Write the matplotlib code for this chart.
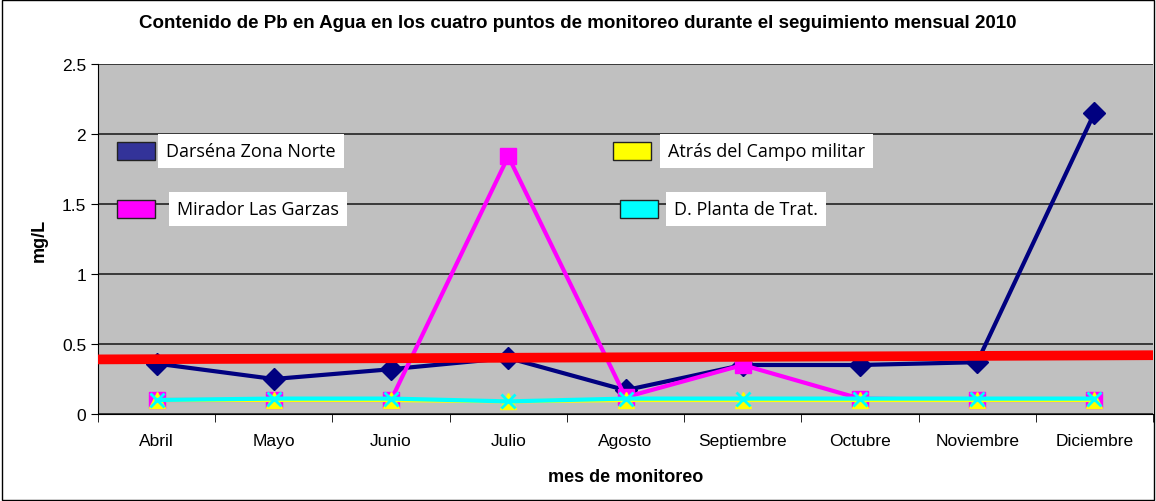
import matplotlib
matplotlib.use("Agg")
from matplotlib import pyplot as plt
from matplotlib.patches import Rectangle
import numpy as np

meses = ["Abril", "Mayo", "Junio", "Julio", "Agosto", "Septiembre",
         "Octubre", "Noviembre", "Diciembre"]
darsena = [0.36, 0.25, 0.32, 0.40, 0.17, 0.35, 0.35, 0.37, 2.15]
mirador = [0.10, 0.10, 0.10, 1.84, 0.12, 0.35, 0.11, 0.10, 0.10]
atras = [0.10, 0.10, 0.10, 0.09, 0.10, 0.10, 0.10, 0.10, 0.10]
planta = [0.10, 0.11, 0.11, 0.09, 0.11, 0.11, 0.11, 0.11, 0.11]
limite = [0.39, 0.42]  # red reference line, left and right ends

plt.rcParams["font.family"] = ["Liberation Sans", "DejaVu Sans"]

fig = plt.figure(figsize=(11.56, 5.02), dpi=100)
ax = fig.add_axes([98 / 1156, 1 - 415 / 502, (1153 - 98) / 1156, 350 / 502])
ax.set_facecolor("#c0c0c0")

x = np.arange(len(meses))
ax.plot(x, darsena, color="#000080", lw=3, marker="D", ms=11, zorder=4)
ax.plot(x, mirador, color="#ff00ff", lw=3, marker="s", ms=12, zorder=5)
ax.plot(x, atras, color="#ffff00", lw=3, marker="^", ms=12, zorder=6)
ax.plot(x, planta, color="#00ffff", lw=3, marker="x", ms=10, mew=2, zorder=7)
ax.plot([-0.5, 8.5], limite, color="#ff0000", lw=7, zorder=8, clip_on=False,
        solid_capstyle="butt")

ax.set_xlim(-0.5, 8.5)
ax.set_ylim(0, 2.5)
ax.set_yticks([0, 0.5, 1, 1.5, 2, 2.5])
ax.set_yticklabels(["0", "0.5", "1", "1.5", "2", "2.5"])
ax.yaxis.grid(True, color="#222222", lw=1.2)
ax.set_axisbelow(True)
ax.set_xticks(x)
ax.set_xticklabels(meses)
ax.set_xticks(np.arange(-0.5, 9, 1), minor=True)
ax.tick_params(axis="x", which="major", length=0, pad=14, labelsize=12.5)
ax.tick_params(axis="x", which="minor", length=6, direction="out")
ax.tick_params(axis="y", length=5, direction="out", labelsize=12.5)
for s in ["top", "right"]:
    ax.spines[s].set_visible(False)
for s in ["left", "bottom"]:
    ax.spines[s].set_color("black")

ax.set_ylabel("mg/L", fontweight="bold", fontsize=13, labelpad=10)
ax.set_xlabel("mes de monitoreo", fontweight="bold", fontsize=13, labelpad=14)
fig.text(0.5, 1 - 24 / 502, "Contenido de Pb en Agua en los cuatro puntos de monitoreo durante el seguimiento mensual 2010",
         ha="center", va="center", fontweight="bold", fontsize=13.5)

# custom legend inside the plot area
entradas = [
    ("Darséna Zona Norte", "#333399", 117, 152, 166),
    ("Mirador Las Garzas", "#ff00ff", 117, 210, 177),
    ("Atrás del Campo militar", "#ffff00", 613, 152, 668),
    ("D. Planta de Trat.", "#00ffff", 620, 210, 674),
]
for texto, color, px, py, tx in entradas:
    fig.patches.append(Rectangle((px / 1156, 1 - (py + 9) / 502), 38 / 1156, 18 / 502,
                                 transform=fig.transFigure, facecolor=color,
                                 edgecolor="#222222", lw=1, zorder=10))
    fig.text(tx / 1156, 1 - py / 502, texto, ha="left", va="center",
             fontsize=13, family=["Open Sans", "DejaVu Sans"], zorder=11,
             bbox=dict(facecolor="white", edgecolor="none", pad=6))

fig.patches.append(Rectangle((0.002, 0.002), 0.996, 0.996, transform=fig.transFigure,
                             fill=False, edgecolor="black", lw=1))

fig.savefig("out.png", dpi=100)
